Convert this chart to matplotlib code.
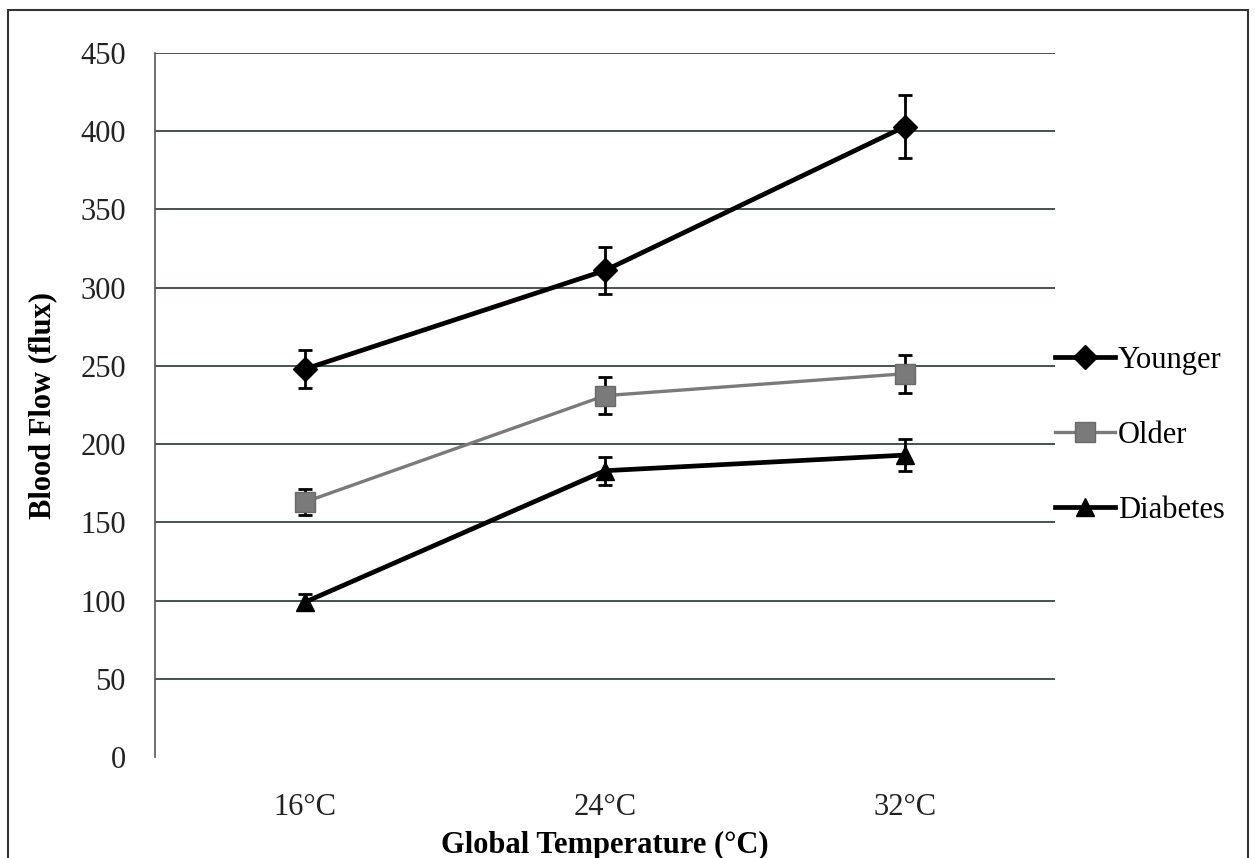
import matplotlib.pyplot as plt
from matplotlib.lines import Line2D
from matplotlib.patches import Rectangle

plt.rcParams['font.family'] = ['Liberation Serif', 'DejaVu Serif']

# blood flow at each temperature, mean and error
temps = ["16°C", "24°C", "32°C"]
younger = [248, 311, 403]
younger_err = [12, 15, 20]
older = [163, 231, 245]
older_err = [8, 12, 12]
diabetes = [99, 183, 193]
diabetes_err = [5, 9, 10]

fig = plt.figure(figsize=(12.55, 8.58), dpi=100)
ax = fig.add_axes([0.1235, 0.1177, 0.7171, 0.8205])

x = list(range(len(temps)))
grey = '#7a7a7a'

# younger
ax.errorbar(x, younger, yerr=younger_err, color='black', lw=3.4, marker='D',
            ms=12, ecolor='black', elinewidth=2, capsize=5, capthick=2, zorder=5)
# older
ax.errorbar(x, older, yerr=older_err, color=grey, lw=2.4, marker='s',
            ms=14, mfc=grey, mec='#6a6a6a', ecolor='black', elinewidth=2,
            capsize=5, capthick=2, zorder=4)
# diabetes
ax.errorbar(x, diabetes, yerr=diabetes_err, color='black', lw=3.4, marker='^',
            ms=13, ecolor='black', elinewidth=2, capsize=5, capthick=2, zorder=5)

ax.set_xlim(-0.5, 2.5)
ax.set_ylim(0, 450)
ax.set_yticks(range(0, 451, 50))
ax.set_xticks(x)
ax.set_xticklabels(temps)
ax.yaxis.grid(True, color='#3a4444', lw=1.3)
ax.set_axisbelow(True)
# no line along the zero value
ax.yaxis.get_gridlines()[0].set_visible(False)
for s in ['top', 'right', 'bottom']:
    ax.spines[s].set_visible(False)
ax.spines['left'].set_color('#555555')
ax.spines['left'].set_linewidth(1.2)
ax.tick_params(length=0, labelsize=22, colors='#222222')
ax.tick_params(axis='y', pad=21)
ax.tick_params(axis='x', pad=26)

ax.set_xlabel("Global Temperature (°C)", fontsize=22, fontweight='bold')
ax.set_ylabel("Blood Flow (flux)", fontsize=22, fontweight='bold')
ax.xaxis.label.set_va('center')
ax.yaxis.label.set_va('center')
ax.xaxis.set_label_coords(0.5, -0.125)
ax.yaxis.set_label_coords(-0.1244, 0.5)

# legend: plain line + marker, no error bars
handles = [
    Line2D([], [], color='black', lw=3.4, marker='D', ms=12),
    Line2D([], [], color=grey, lw=2.4, marker='s', ms=14, mfc=grey, mec='#6a6a6a'),
    Line2D([], [], color='black', lw=3.4, marker='^', ms=13),
]
ax.legend(handles, ['Younger', 'Older', 'Diabetes'], loc='center left',
          bbox_to_anchor=(1.0, 0.457), frameon=False, fontsize=22,
          handlelength=1.95, handletextpad=0.1, labelspacing=1.5,
          borderaxespad=0, borderpad=0)

# outer chart border
fig.patches.append(Rectangle((8 / 1255, -0.01), 1240 / 1255, 1 - 10 / 858 + 0.01,
                             transform=fig.transFigure, fill=False,
                             ec='#333333', lw=1.5))

fig.savefig("out.png", dpi=100)
